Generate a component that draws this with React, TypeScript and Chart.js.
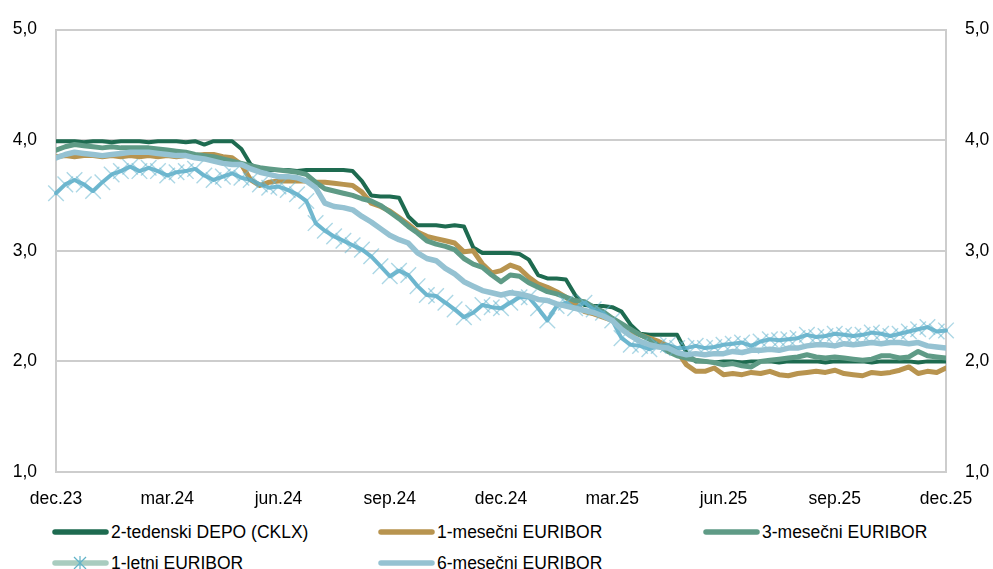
import React, { useEffect, useRef } from "react";
import { Chart, registerables } from "chart.js";

Chart.register(...registerables);

const xTickLabels = ["dec.23", "mar.24", "jun.24", "sep.24", "dec.24", "mar.25", "jun.25", "sep.25", "dec.25"];
const pointsPerTick = 12; // weekly observations between quarterly labels

const depo = [
  3.99, 3.99, 3.99, 3.98, 3.99, 3.99, 3.98, 3.99, 3.99, 3.99,
  3.98, 3.99, 3.99, 3.99, 3.98, 3.99, 3.96, 3.99, 3.99, 3.99,
  3.92, 3.78, 3.73, 3.73, 3.73, 3.73, 3.72, 3.73, 3.73, 3.73,
  3.73, 3.73, 3.72, 3.63, 3.5, 3.49, 3.49, 3.48, 3.31, 3.23,
  3.23, 3.23, 3.22, 3.23, 3.22, 3.03, 2.98, 2.98, 2.98, 2.98,
  2.97, 2.92, 2.78, 2.75, 2.75, 2.74, 2.6, 2.51, 2.5, 2.5,
  2.49, 2.45, 2.33, 2.25, 2.24, 2.24, 2.24, 2.24, 2.08, 2.0,
  2.0, 1.99, 2.0, 2.0, 1.99, 2.0, 2.0, 2.0, 1.99, 2.0,
  2.0, 2.0, 2.0, 1.99, 2.0, 2.0, 2.0, 2.0, 1.99, 2.0,
  2.0, 2.0, 2.0, 1.99, 2.0, 2.0, 2.0,
];

const euribor1m = [
  3.85, 3.86, 3.85, 3.86, 3.86, 3.85, 3.86, 3.85, 3.86, 3.85,
  3.86, 3.85, 3.86, 3.85, 3.86, 3.86, 3.87, 3.87, 3.85, 3.84,
  3.78, 3.64, 3.59, 3.62, 3.63, 3.63, 3.63, 3.63, 3.62, 3.62,
  3.61, 3.6, 3.59, 3.53, 3.43, 3.4, 3.36, 3.3, 3.24, 3.17,
  3.13, 3.11, 3.09, 3.07, 2.99, 3.0, 2.88, 2.8, 2.82, 2.87,
  2.84, 2.76, 2.7, 2.67, 2.63, 2.58, 2.52, 2.45, 2.43, 2.4,
  2.37, 2.32, 2.27, 2.24, 2.21, 2.18, 2.14, 2.09, 1.97, 1.91,
  1.91, 1.94, 1.88, 1.89, 1.88, 1.9, 1.89, 1.91, 1.88, 1.87,
  1.89, 1.9, 1.91, 1.9, 1.92, 1.89, 1.88, 1.87, 1.9, 1.89,
  1.9, 1.92, 1.95, 1.89, 1.91, 1.9, 1.94,
];

const euribor3m = [
  3.91, 3.94, 3.96, 3.95, 3.94, 3.93, 3.94, 3.93, 3.93, 3.93,
  3.93, 3.92, 3.91, 3.9, 3.89, 3.87, 3.86, 3.85, 3.83, 3.81,
  3.79, 3.77, 3.75, 3.74, 3.73, 3.72, 3.71, 3.69, 3.62, 3.56,
  3.54, 3.52, 3.5, 3.47, 3.45, 3.41, 3.35, 3.29, 3.22, 3.16,
  3.09, 3.06, 3.04, 3.01, 2.93, 2.88, 2.85, 2.78, 2.72, 2.78,
  2.77, 2.71, 2.67, 2.63, 2.61, 2.58, 2.55, 2.54, 2.49, 2.45,
  2.39, 2.34, 2.29, 2.24, 2.2, 2.14, 2.09, 2.05, 2.03, 2.01,
  2.0, 1.99, 1.97, 1.98, 1.96, 1.95, 2.0, 2.01, 2.02, 2.03,
  2.04, 2.06, 2.04, 2.03, 2.04, 2.03, 2.02, 2.01, 2.02, 2.05,
  2.05, 2.03, 2.04, 2.09, 2.05, 2.04, 2.03,
];

const euribor1y = [
  3.52, 3.6, 3.64, 3.6, 3.54, 3.62, 3.69, 3.72, 3.76, 3.72,
  3.75, 3.72, 3.68, 3.71, 3.72, 3.74, 3.68, 3.64, 3.67, 3.7,
  3.66, 3.64, 3.6, 3.57, 3.58, 3.55, 3.51, 3.45, 3.25, 3.18,
  3.13, 3.09, 3.05, 3.01, 2.95, 2.86, 2.77, 2.82, 2.78, 2.68,
  2.6, 2.59, 2.53, 2.47, 2.4, 2.44, 2.51, 2.49, 2.48, 2.53,
  2.58, 2.58, 2.48, 2.37, 2.5, 2.53, 2.48, 2.53, 2.47, 2.44,
  2.37, 2.21, 2.15, 2.14, 2.11, 2.14, 2.15, 2.12, 2.12, 2.14,
  2.12, 2.13, 2.15, 2.16, 2.17, 2.14, 2.18, 2.2, 2.19, 2.2,
  2.21, 2.24, 2.22, 2.23, 2.25, 2.24, 2.23, 2.24, 2.26, 2.25,
  2.23, 2.25, 2.27, 2.29, 2.31, 2.27, 2.28,
];

const euribor6m = [
  3.84, 3.87, 3.89, 3.88, 3.87, 3.86, 3.87, 3.88, 3.89, 3.89,
  3.89, 3.88, 3.87, 3.86, 3.86, 3.84, 3.83, 3.81, 3.79, 3.78,
  3.78, 3.74, 3.71, 3.69, 3.67, 3.67, 3.66, 3.63, 3.57, 3.43,
  3.4, 3.39, 3.37, 3.31, 3.26, 3.2, 3.14, 3.1, 3.07, 2.98,
  2.93, 2.91, 2.84, 2.79, 2.72, 2.68, 2.64, 2.62, 2.6, 2.62,
  2.61, 2.59, 2.56, 2.55, 2.52, 2.5, 2.48, 2.46, 2.44, 2.41,
  2.37, 2.29, 2.23, 2.18, 2.15, 2.13, 2.12, 2.08, 2.06, 2.07,
  2.06, 2.07, 2.07, 2.09, 2.08, 2.1, 2.1, 2.11, 2.1, 2.12,
  2.12, 2.14, 2.15, 2.15, 2.14, 2.16, 2.15, 2.16, 2.17, 2.16,
  2.17, 2.17, 2.16, 2.17, 2.14, 2.13, 2.12,
];

const yTickValues = { min: 1, max: 5, step: 1 };

const FONT = '"Liberation Sans", Arial, Helvetica, sans-serif';
const FONT_SIZE = 17.5;
const GRID = "#cdcdcd";

const series = [
  { label: "2-tedenski DEPO (CKLX)", values: depo, color: "#1e6b50", width: 4, order: 5, col: 0, row: 0 },
  { label: "1-mesečni EURIBOR", values: euribor1m, color: "#b8944f", width: 5, order: 4, col: 1, row: 0 },
  { label: "3-mesečni EURIBOR", values: euribor3m, color: "#5f9b86", width: 5, order: 3, col: 2, row: 0 },
  { label: "1-letni EURIBOR", values: euribor1y, color: "#a9ccbf", width: 4, order: 2, col: 0, row: 1, marker: "rgba(104,182,207,0.55)" },
  { label: "6-mesečni EURIBOR", values: euribor6m, color: "#95c2d2", width: 5.5, order: 1, col: 1, row: 1 },
];

const legendCols = [52, 378, 703];
const legendRows = [532, 563];

export default function App() {
  const ref = useRef<HTMLCanvasElement>(null);

  useEffect(() => {
    const fmt = (v: any) => Number(v).toFixed(1).replace(".", ",");
    const tickFont = { family: FONT, size: FONT_SIZE };
    const chart = new Chart(ref.current as HTMLCanvasElement, {
      type: "line",
      data: {
        datasets: series.map((s) => ({
          label: s.label,
          data: s.values.map((y, i) => ({ x: i, y })),
          borderColor: s.marker ? "rgba(88,170,197,0.85)" : s.color,
          backgroundColor: s.color,
          borderWidth: s.width,
          pointRadius: s.marker ? 11 : 0,
          pointStyle: s.marker ? "crossRot" : "circle",
          pointBorderColor: s.marker || s.color,
          pointBorderWidth: 1.4,
          pointHoverRadius: 0,
          tension: 0,
          fill: false,
          order: s.order,
          clip: s.marker ? false : undefined,
          borderJoinStyle: "round",
          borderCapStyle: "round",
        })) as any,
      },
      options: {
        animation: false,
        responsive: false,
        events: [],
        layout: { padding: { top: 24, left: 0, right: 0, bottom: 0 } },
        plugins: { legend: { display: false }, tooltip: { enabled: false } },
        scales: {
          x: {
            type: "linear",
            min: 0,
            max: (xTickLabels.length - 1) * pointsPerTick,
            grid: { display: false, drawTicks: false },
            border: { display: false },
            ticks: {
              stepSize: pointsPerTick,
              autoSkip: false,
              maxRotation: 0,
              padding: 17,
              color: "#000",
              font: tickFont,
              callback: (v: any) => xTickLabels[Math.round(Number(v) / pointsPerTick)] ?? "",
            },
            afterFit: (s: any) => {
              s.height = 43;
            },
          },
          y: {
            position: "left",
            min: yTickValues.min,
            max: yTickValues.max,
            grid: { color: GRID, lineWidth: 2, drawTicks: false },
            border: { display: true, color: GRID, width: 2 },
            ticks: { stepSize: yTickValues.step, padding: 19, color: "#000", font: tickFont, callback: fmt },
            afterFit: (s: any) => {
              s.width = 56;
            },
          },
          y2: {
            position: "right",
            min: yTickValues.min,
            max: yTickValues.max,
            grid: { display: false, drawTicks: false },
            border: { display: true, color: GRID, width: 2 },
            ticks: { stepSize: yTickValues.step, padding: 19, color: "#000", font: tickFont, callback: fmt },
            afterFit: (s: any) => {
              s.width = 47;
            },
          },
        },
      } as any,
    });
    return () => chart.destroy();
  }, []);

  return (
    <div style={{ position: "fixed", left: 0, top: 0, width: 993, height: 569, background: "#fff", overflow: "hidden" }}>
      <canvas ref={ref} width={993} height={515} style={{ position: "absolute", left: 0, top: 0, width: 993, height: 515 }} />
      {series.map((s) => (
        <div
          key={s.label}
          style={{
            position: "absolute",
            left: legendCols[s.col],
            top: legendRows[s.row] - 12,
            height: 24,
            display: "flex",
            alignItems: "center",
            fontFamily: FONT,
            fontSize: FONT_SIZE,
            color: "#000",
            whiteSpace: "nowrap",
          }}
        >
          <svg width={58} height={24} style={{ display: "block" }}>
            <line x1={3} y1={12} x2={54} y2={12} stroke={s.color} strokeWidth={5.5} strokeLinecap="round" />
            {s.marker ? (
              <g stroke="#62b3c8" strokeWidth={1.2}>
                <line x1={22} y1={6} x2={34} y2={18} />
                <line x1={34} y1={6} x2={22} y2={18} />
                <line x1={28} y1={5} x2={28} y2={19} />
              </g>
            ) : null}
          </svg>
          <span style={{ marginLeft: 1 }}>{s.label}</span>
        </div>
      ))}
    </div>
  );
}
